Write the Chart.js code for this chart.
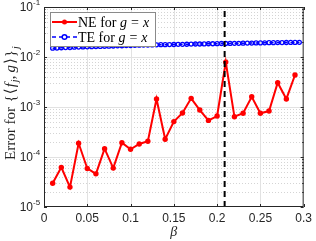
<!DOCTYPE html>
<html>
<head>
<meta charset="utf-8">
<script src="https://cdn.jsdelivr.net/npm/chart.js@4.4.0/dist/chart.umd.min.js"></script>
<style>
  html, body { margin: 0; padding: 0; background: #fff; }
</style>
</head>
<body>
<canvas id="errChart" width="316" height="241"></canvas>
<script>
// NE errors, one per beta
const neBeta = [0.01, 0.02, 0.03, 0.04, 0.05, 0.06, 0.07, 0.08, 0.09, 0.10,
                0.11, 0.12, 0.13, 0.14, 0.15, 0.16, 0.17, 0.18, 0.19, 0.20,
                0.21, 0.22, 0.23, 0.24, 0.25, 0.26, 0.27, 0.28, 0.29];
const neErr = [2.98e-5, 6.2e-5, 2.5e-5, 1.88e-4, 5.9e-5, 4.6e-5, 1.47e-4, 6.0e-5, 1.93e-4, 1.43e-4,
               1.82e-4, 2.06e-4, 1.45e-3, 2.26e-4, 5.1e-4, 7.6e-4, 1.49e-3, 8.7e-4, 5.4e-4, 6.6e-4,
               7.9e-3, 6.4e-4, 7.5e-4, 1.6e-3, 7.5e-4, 8.3e-4, 3.06e-3, 1.45e-3, 4.37e-3];

// TE errors, finer beta grid
const teBeta = [0.010, 0.015, 0.020, 0.025, 0.030, 0.035, 0.040, 0.045, 0.050, 0.055,
                0.060, 0.065, 0.070, 0.075, 0.080, 0.085, 0.090, 0.095, 0.100, 0.105,
                0.110, 0.115, 0.120, 0.125, 0.130, 0.135, 0.140, 0.145, 0.150, 0.155,
                0.160, 0.165, 0.170, 0.175, 0.180, 0.185, 0.190, 0.195, 0.200, 0.205,
                0.210, 0.215, 0.220, 0.225, 0.230, 0.235, 0.240, 0.245, 0.250, 0.255,
                0.260, 0.265, 0.270, 0.275, 0.280, 0.285, 0.290, 0.295];
const teErr = [0.0150, 0.0151, 0.0153, 0.0154, 0.0155, 0.0157, 0.0158, 0.0159, 0.0160, 0.0161,
               0.0162, 0.0163, 0.0164, 0.0165, 0.0166, 0.0167, 0.0168, 0.0169, 0.0170, 0.0171,
               0.0172, 0.0173, 0.0173, 0.0174, 0.0175, 0.0176, 0.0176, 0.0177, 0.0178, 0.0179,
               0.0179, 0.0180, 0.0181, 0.0182, 0.0182, 0.0183, 0.0184, 0.0184, 0.0185, 0.0186,
               0.0186, 0.0187, 0.0188, 0.0188, 0.0189, 0.0190, 0.0190, 0.0191, 0.0191, 0.0192,
               0.0193, 0.0193, 0.0194, 0.0194, 0.0195, 0.0196, 0.0196, 0.0197];

const markerBeta = 0.2087;
const xTicks = [0, 0.05, 0.1, 0.15, 0.2, 0.25, 0.3];
const yExps = [-5, -4, -3, -2, -1];

const axisColor = '#262626';
const serif = '"Liberation Serif", "DejaVu Serif", serif';
const sans = '"Liberation Sans", Arial, sans-serif';

// draw a run of text pieces with mixed fonts, left to right
function drawPieces(ctx, pieces, x0, y0) {
    let x = x0;
    pieces.forEach(p => {
        ctx.font = p.font;
        ctx.fillText(p.t, x, y0 + (p.dy || 0));
        x += ctx.measureText(p.t).width + (p.gap || 0);
    });
    return x - x0;
}

const matlabLook = {
    id: 'matlabLook',
    beforeDatasetsDraw(chart) {
        const { ctx, chartArea: a, scales: { x, y } } = chart;
        ctx.save();
        ctx.lineWidth = 1;
        // minor log grid, dotted
        ctx.strokeStyle = '#d4d4d4';
        ctx.setLineDash([1, 2]);
        for (let i = 0; i < yExps.length - 1; i++) {
            for (let m = 2; m <= 9; m++) {
                const py = Math.round(y.getPixelForValue(m * Math.pow(10, yExps[i]))) + 0.5;
                ctx.beginPath(); ctx.moveTo(a.left, py); ctx.lineTo(a.right, py); ctx.stroke();
            }
        }
        // major grid
        ctx.setLineDash([]);
        ctx.strokeStyle = '#e2e2e2';
        yExps.slice(1, -1).forEach(e => {
            const py = Math.round(y.getPixelForValue(Math.pow(10, e))) + 0.5;
            ctx.beginPath(); ctx.moveTo(a.left, py); ctx.lineTo(a.right, py); ctx.stroke();
        });
        xTicks.slice(1, -1).forEach(v => {
            const px = Math.round(x.getPixelForValue(v)) + 0.5;
            ctx.beginPath(); ctx.moveTo(px, a.top); ctx.lineTo(px, a.bottom); ctx.stroke();
        });
        ctx.restore();
    },
    afterDraw(chart) {
        const { ctx, chartArea: a, scales: { x, y } } = chart;
        ctx.save();
        // axes box
        ctx.strokeStyle = axisColor;
        ctx.lineWidth = 1;
        ctx.strokeRect(a.left + 0.5, a.top + 0.5, a.right - a.left - 1, a.bottom - a.top - 1);
        // inside ticks
        ctx.beginPath();
        xTicks.forEach(v => {
            const px = Math.round(x.getPixelForValue(v)) + 0.5;
            ctx.moveTo(px, a.bottom); ctx.lineTo(px, a.bottom - 3);
            ctx.moveTo(px, a.top); ctx.lineTo(px, a.top + 3);
        });
        yExps.forEach(e => {
            const py = Math.round(y.getPixelForValue(Math.pow(10, e))) + 0.5;
            ctx.moveTo(a.left, py); ctx.lineTo(a.left + 3, py);
            ctx.moveTo(a.right, py); ctx.lineTo(a.right - 3, py);
        });
        for (let i = 0; i < yExps.length - 1; i++) {
            for (let m = 2; m <= 9; m++) {
                const py = Math.round(y.getPixelForValue(m * Math.pow(10, yExps[i]))) + 0.5;
                ctx.moveTo(a.left, py); ctx.lineTo(a.left + 1.5, py);
                ctx.moveTo(a.right, py); ctx.lineTo(a.right - 1.5, py);
            }
        }
        ctx.stroke();

        // y tick labels 10^e
        ctx.fillStyle = axisColor;
        ctx.textBaseline = 'middle';
        yExps.forEach(e => {
            const py = y.getPixelForValue(Math.pow(10, e));
            ctx.font = '12px ' + sans;
            ctx.textAlign = 'right';
            ctx.fillText('10', 33, py + 1);
            ctx.font = '8px ' + sans;
            ctx.textAlign = 'left';
            ctx.fillText('-' + Math.abs(e), 33, py - 4);
        });

        // y axis title, read bottom to top
        ctx.textAlign = 'left';
        ctx.textBaseline = 'alphabetic';
        const up = '15px ' + serif, it = 'italic 15px ' + serif, sub = 'italic 10px ' + serif;
        ctx.save();
        ctx.translate(15, 160);
        ctx.rotate(-Math.PI / 2);
        drawPieces(ctx, [
            { t: 'Error for ', font: up, gap: 1 },
            { t: '{', font: up, gap: 1 },
            { t: '⟨', font: '15px "DejaVu Serif", serif', gap: 1 },
            { t: 'f', font: it, gap: 1 },
            { t: 'j', font: sub, dy: 3 },
            { t: ',', font: up, gap: 3 },
            { t: 'g', font: it, gap: 1 },
            { t: '⟩', font: '15px "DejaVu Serif", serif', gap: 1 },
            { t: '}', font: up, gap: 1 },
            { t: 'j', font: sub, dy: 4 }
        ], 0, 0);
        ctx.restore();

        // legend
        const lgTxt = '14px ' + serif, lgIt = 'italic 14px ' + serif;
        const L = { l: 50, t: 12, r: 156, b: 47 };
        ctx.fillStyle = '#fff';
        ctx.fillRect(L.l, L.t, L.r - L.l, L.b - L.t);
        ctx.strokeStyle = '#8a8a8a';
        ctx.lineWidth = 1;
        ctx.strokeRect(L.l + 0.5, L.t + 0.5, L.r - L.l - 1, L.b - L.t - 1);
        const rows = [
            { name: 'NE', y: 22, color: '#ff0000', dash: [], lw: 2 },
            { name: 'TE', y: 37, color: '#0000ff', dash: [4, 3], lw: 1.5 }
        ];
        rows.forEach((r, i) => {
            ctx.strokeStyle = r.color;
            ctx.lineWidth = r.lw;
            ctx.setLineDash(r.dash);
            ctx.beginPath(); ctx.moveTo(52, r.y); ctx.lineTo(77, r.y); ctx.stroke();
            ctx.setLineDash([]);
            ctx.beginPath();
            ctx.arc(64.5, r.y, i === 0 ? 2.5 : 2.3, 0, Math.PI * 2);
            if (i === 0) { ctx.fillStyle = r.color; ctx.fill(); }
            else { ctx.lineWidth = 1.5; ctx.stroke(); }
            ctx.fillStyle = '#000';
            drawPieces(ctx, [
                { t: r.name + ' for ', font: lgTxt },
                { t: 'g', font: lgIt, gap: 4 },
                { t: '=', font: lgTxt, gap: 4 },
                { t: 'x', font: lgIt }
            ], 78, r.y + 5);
        });
        ctx.restore();
    }
};

new Chart(document.getElementById('errChart'), {
    type: 'line',
    data: {
        datasets: [
            {
                label: 'beta marker',
                data: [{ x: markerBeta, y: 1e-5 }, { x: markerBeta, y: 1e-1 }],
                borderColor: '#000',
                borderWidth: 2,
                borderDash: [6, 4],
                pointRadius: 0,
                order: 0
            },
            {
                label: 'NE for g = x',
                data: neBeta.map((b, i) => ({ x: b, y: neErr[i] })),
                borderColor: '#ff0000',
                backgroundColor: '#ff0000',
                borderWidth: 2,
                pointRadius: 2.7,
                pointBorderWidth: 0,
                order: 1
            },
            {
                label: 'TE for g = x',
                data: teBeta.map((b, i) => ({ x: b, y: teErr[i] })),
                borderColor: '#0000ff',
                borderWidth: 1.5,
                borderDash: [4, 3],
                pointRadius: 2,
                pointBorderWidth: 1.3,
                pointBackgroundColor: 'rgba(0,0,0,0)',
                order: 2
            }
        ]
    },
    options: {
        responsive: false,
        animation: false,
        clip: false,
        layout: { padding: { top: 7, right: 9, left: 0, bottom: 0 } },
        plugins: {
            legend: { display: false },
            tooltip: { enabled: false }
        },
        scales: {
            x: {
                type: 'linear',
                min: 0,
                max: 0.3,
                afterFit: s => { s.height = 34; },
                afterBuildTicks: s => { s.ticks = xTicks.map(v => ({ value: v })); },
                grid: { display: false, drawTicks: false },
                border: { display: false },
                ticks: {
                    padding: 4,
                    color: axisColor,
                    font: { family: sans, size: 12 },
                    maxRotation: 0,
                    callback: v => String(Number(v.toFixed(2)))
                },
                title: {
                    display: true,
                    text: 'β',
                    color: axisColor,
                    padding: { top: 0, bottom: 0 },
                    font: { family: serif, style: 'italic', size: 14 }
                }
            },
            y: {
                type: 'logarithmic',
                min: 1e-5,
                max: 1e-1,
                afterFit: s => { s.width = 44; },
                grid: { display: false, drawTicks: false },
                border: { display: false },
                ticks: { display: false }
            }
        }
    },
    plugins: [matlabLook]
});
</script>
</body>
</html>
